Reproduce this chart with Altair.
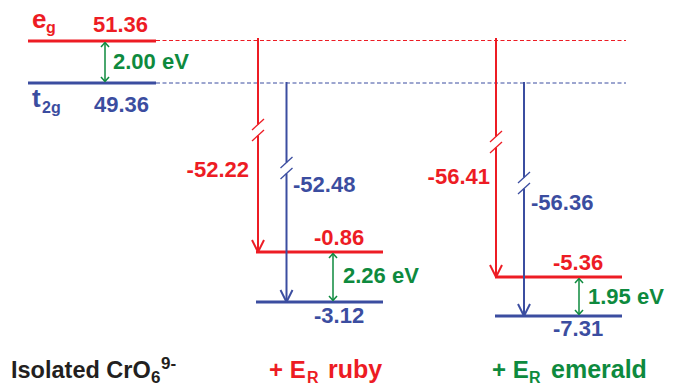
import altair as alt
import pandas as pd

# ---------------- values ----------------
column_labels = ["Isolated CrO", "+ E", "+ E"]
column_suffix = ["", "ruby", "emerald"]
isolated_levels = [51.36, 49.36]          # e_g, t_2g
ruby_shift = [-52.22, -52.48]             # e_g, t_2g
emerald_shift = [-56.41, -56.36]
ruby_levels = [-0.86, -3.12]
emerald_levels = [-5.36, -7.31]
gaps_eV = [2.00, 2.26, 1.95]              # isolated, ruby, emerald

RED = "#ED1C24"
BLUE = "#3B4DA0"
GREEN = "#0E8A3E"
BLACK = "#231F20"
FONT = "Liberation Sans"

# ---------------- schematic layout (diagram units = page pixels) ----------------
W, H = 665, 378
iso_span = (28, 156)
top_y = {"eg": 41, "t2g": 83}
dash_end = 626
cols = {
    "ruby": dict(span=(256, 383), xr=258, xb=286.5, yr=252, yb=302, xg=333,
                 br=130, bb=168),
    "emerald": dict(span=(495, 622), xr=496, xb=524, yr=277, yb=316, xg=579,
                    br=142, bb=183),
}

segs = []


def seg(x, y, x2, y2, color, w, dash=False):
    segs.append(dict(x=x, y=y, x2=x2, y2=y2, color=color, w=w, dash=dash))


# isolated levels + dashed guides
seg(iso_span[0], top_y["eg"], iso_span[1], top_y["eg"], RED, 3.2)
seg(iso_span[0], top_y["t2g"], iso_span[1], top_y["t2g"], BLUE, 3.2)
seg(iso_span[1], top_y["eg"] - 0.5, dash_end, top_y["eg"] - 0.5, RED, 1, True)
seg(iso_span[1], top_y["t2g"], dash_end, top_y["t2g"], BLUE, 1, True)


def gap_arrow(x, y1, y2):
    seg(x, y1 + 1.5, x, y2 - 1.5, GREEN, 1.5)
    seg(x, y1 + 1.5, x - 4, y1 + 6, GREEN, 1.5)
    seg(x, y1 + 1.5, x + 4, y1 + 6, GREEN, 1.5)
    seg(x, y2 - 1.5, x - 4, y2 - 6, GREEN, 1.5)
    seg(x, y2 - 1.5, x + 4, y2 - 6, GREEN, 1.5)


def broken_arrow(x, y0, y1, yb, color):
    g = 5.5
    seg(x, y0, x, yb - g, color, 2)
    seg(x, yb + g, x, y1, color, 2)
    for c in (yb - g, yb + g):
        seg(x - 6, c + 5.5, x + 6, c - 5.5, color, 1.3)
    seg(x, y1, x - 6, y1 - 12, color, 2)
    seg(x, y1, x + 6, y1 - 12, color, 2)


gap_arrow(105, top_y["eg"], top_y["t2g"])
for name, c in cols.items():
    seg(c["span"][0], c["yr"], c["span"][1], c["yr"], RED, 3.2)
    seg(c["span"][0], c["yb"], c["span"][1], c["yb"], BLUE, 3.2)
    broken_arrow(c["xr"], top_y["eg"] - 3, c["yr"], c["br"], RED)
    broken_arrow(c["xb"], top_y["t2g"] - 1, c["yb"], c["bb"], BLUE)
    gap_arrow(c["xg"], c["yr"], c["yb"])

seg_df = pd.DataFrame(segs)

# ---------------- texts ----------------
texts = []


def txt(t, x, y, size, color, align="left"):
    texts.append(dict(t=t, x=x, y=y, size=size, color=color, align=align))


def f(v):
    return f"{v:.2f}"


txt("e", 32, 28, 26, RED)
txt("g", 46, 33, 16, RED)
txt(f(isolated_levels[0]), 93, 32, 22, RED)
txt("t", 32, 107, 26, BLUE)
txt("2g", 42, 113, 16, BLUE)
txt(f(isolated_levels[1]), 94, 112, 22, BLUE)
txt(f"{gaps_eV[0]:.2f} eV", 113, 69, 22, GREEN)

txt(f(ruby_shift[0]), 249, 177, 22, RED, "right")
txt(f(ruby_shift[1]), 293, 192, 22, BLUE)
txt(f(ruby_levels[0]), 314, 245, 22, RED)
txt(f"{gaps_eV[1]:.2f} eV", 343, 283, 22, GREEN)
txt(f(ruby_levels[1]), 314, 323, 22, BLUE)

txt(f(emerald_shift[0]), 490, 184, 22, RED, "right")
txt(f(emerald_shift[1]), 531, 210, 22, BLUE)
txt(f(emerald_levels[0]), 553, 270, 22, RED)
txt(f"{gaps_eV[2]:.2f} eV", 588, 304, 22, GREEN)
txt(f(emerald_levels[1]), 553, 336, 22, BLUE)

# column captions
txt(column_labels[0], 11, 378, 23.5, BLACK)
txt("6", 151, 383, 17, BLACK)
txt("9-", 161, 369, 17, BLACK)
txt(column_labels[1], 269, 378, 24, RED)
txt("R", 307, 383, 16, RED)
txt(column_suffix[1], 328, 378, 25, RED)
txt(column_labels[2], 492, 378, 24, GREEN)
txt("R", 529, 383, 16, GREEN)
txt(column_suffix[2], 551, 378, 25, GREEN)

txt_df = pd.DataFrame(texts)

xs = alt.Scale(domain=[8, 8 + W], nice=False, zero=False)
ys = alt.Scale(domain=[8, 8 + H], nice=False, zero=False, reverse=True)


def X(f_):
    return alt.X(f_, type="quantitative", scale=xs, axis=None)


def Y(f_):
    return alt.Y(f_, type="quantitative", scale=ys, axis=None)


base_seg = alt.Chart(seg_df)
solid = base_seg.transform_filter("!datum.dash").mark_rule(strokeCap="butt").encode(
    x=X("x"), x2="x2", y=Y("y"), y2="y2",
    color=alt.Color("color:N", scale=None),
    strokeWidth=alt.StrokeWidth("w:Q", scale=None),
)
dashed = base_seg.transform_filter("datum.dash").mark_rule(strokeDash=[4, 2.5], strokeCap="butt").encode(
    x=X("x"), x2="x2", y=Y("y"), y2="y2",
    color=alt.Color("color:N", scale=None),
    strokeWidth=alt.StrokeWidth("w:Q", scale=None),
)

base_txt = alt.Chart(txt_df)


def text_layer(align):
    return base_txt.transform_filter(f"datum.align == '{align}'").mark_text(
        align=align, baseline="alphabetic", font=FONT, fontWeight="bold"
    ).encode(
        x=X("x"), y=Y("y"), text="t:N",
        color=alt.Color("color:N", scale=None),
        size=alt.Size("size:Q", scale=None),
    )


chart = alt.layer(dashed, solid, text_layer("left"), text_layer("right")).properties(
    width=W, height=H, padding=0, autosize="none", background="white"
).configure_view(strokeWidth=0)

chart.save("out.html", embed_options={"renderer": "svg", "actions": False})
